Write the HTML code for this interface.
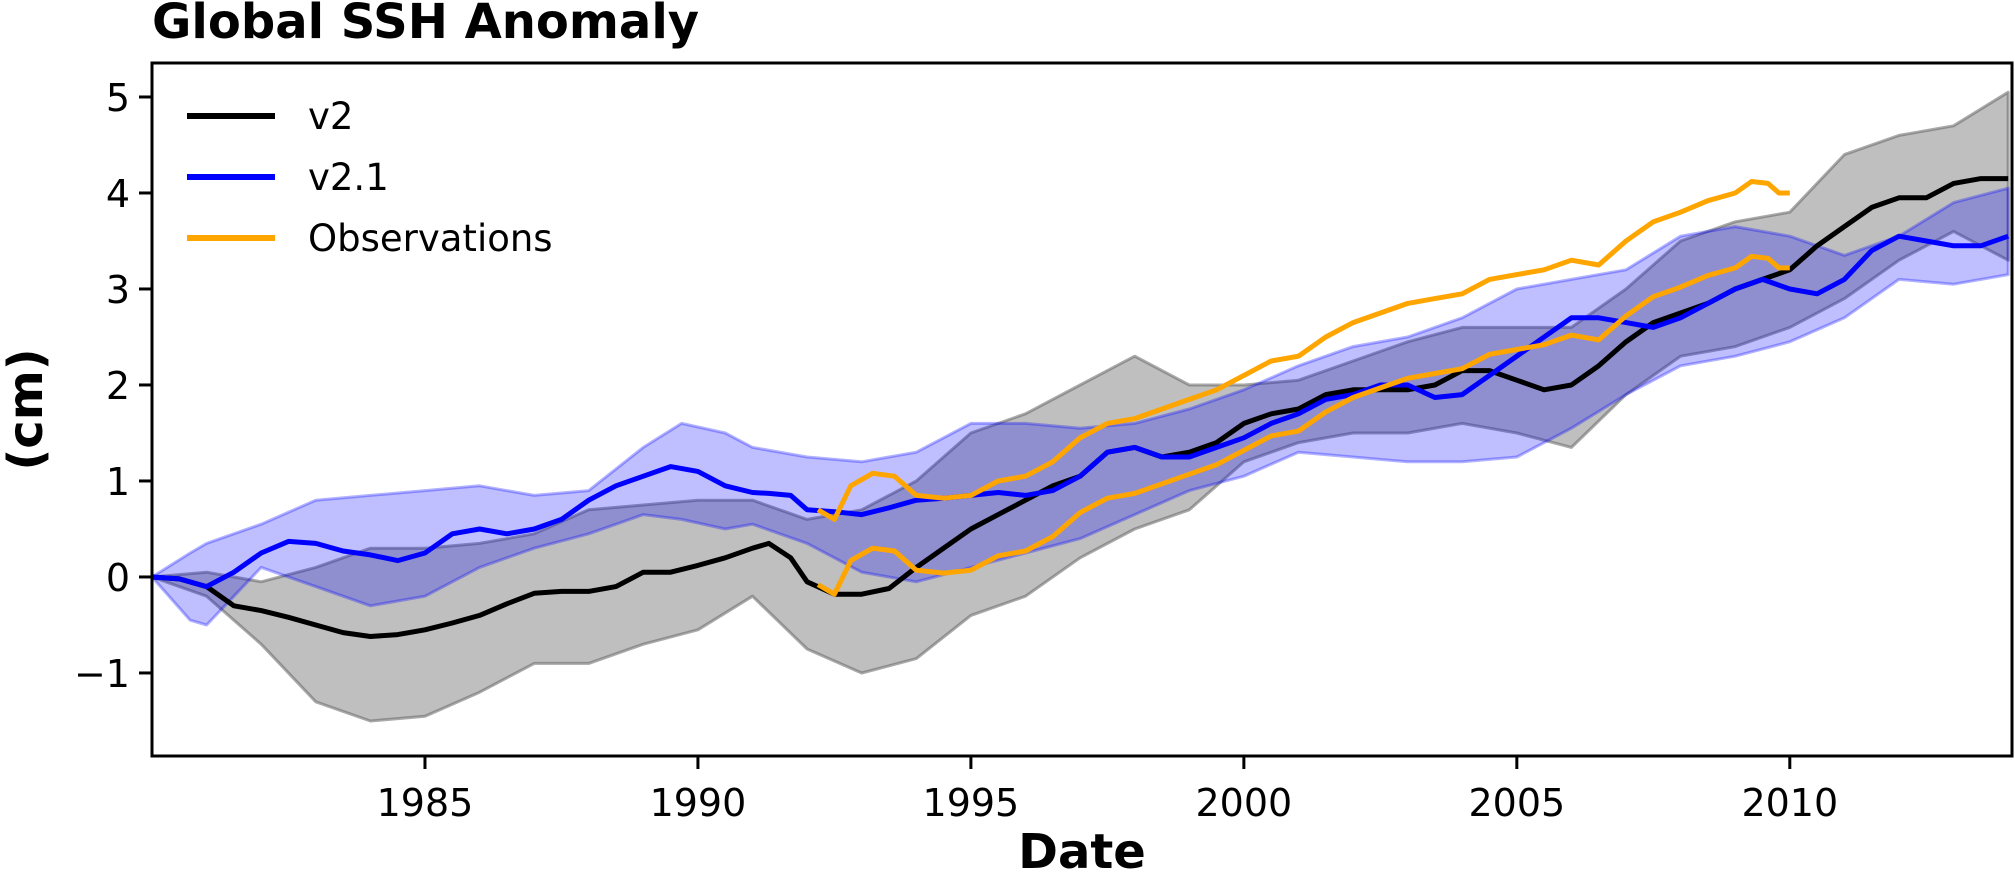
<!DOCTYPE html>
<html><head><meta charset="utf-8"><style>
html,body{margin:0;padding:0;background:#fff;}
svg{display:block;font-family:"DejaVu Sans","Liberation Sans",sans-serif;}
</style></head><body>
<svg id="chart" width="2015" height="881" viewBox="0 0 2015 881">
<text x="152" y="38" font-size="48" font-weight="bold">Global SSH Anomaly</text>
<g id="plot"></g>
</svg>
<script>
// ---- data ----
const v2Years = [1980,1980.5,1981,1981.5,1982,1982.5,1983,1983.5,1984,1984.5,1985,1985.5,1986,1986.5,1987,1987.5,1988,1988.5,1989,1989.5,1990,1990.5,1991,1991.3,1991.7,1992,1992.5,1993,1993.5,1994,1994.5,1995,1995.5,1996,1996.5,1997,1997.5,1998,1998.5,1999,1999.5,2000,2000.5,2001,2001.5,2002,2002.5,2003,2003.5,2004,2004.5,2005,2005.5,2006,2006.5,2007,2007.5,2008,2008.5,2009,2009.5,2010,2010.5,2011,2011.5,2012,2012.5,2013,2013.5,2014];
const v2Values = [0,-0.02,-0.1,-0.3,-0.35,-0.42,-0.5,-0.58,-0.62,-0.6,-0.55,-0.48,-0.4,-0.28,-0.17,-0.15,-0.15,-0.1,0.05,0.05,0.12,0.2,0.3,0.35,0.2,-0.05,-0.18,-0.18,-0.12,0.1,0.3,0.5,0.65,0.8,0.95,1.05,1.3,1.35,1.25,1.3,1.4,1.6,1.7,1.75,1.9,1.95,1.95,1.95,2.0,2.15,2.15,2.05,1.95,2.0,2.2,2.45,2.65,2.75,2.85,3.0,3.1,3.2,3.45,3.65,3.85,3.95,3.95,4.1,4.15,4.15];
const v2BandYears = [1980,1981,1982,1983,1984,1985,1986,1987,1988,1989,1990,1991,1992,1993,1994,1995,1996,1997,1998,1999,2000,2001,2002,2003,2004,2005,2006,2007,2008,2009,2010,2011,2012,2013,2014];
const v2Upper = [0,0.05,-0.05,0.1,0.3,0.3,0.35,0.45,0.7,0.75,0.8,0.8,0.6,0.7,1.0,1.5,1.7,2.0,2.3,2.0,2.0,2.05,2.25,2.45,2.6,2.6,2.6,3.0,3.5,3.7,3.8,4.4,4.6,4.7,5.05];
const v2Lower = [0,-0.2,-0.7,-1.3,-1.5,-1.45,-1.2,-0.9,-0.9,-0.7,-0.55,-0.2,-0.75,-1.0,-0.85,-0.4,-0.2,0.2,0.5,0.7,1.2,1.4,1.5,1.5,1.6,1.5,1.35,1.9,2.3,2.4,2.6,2.9,3.3,3.6,3.3];
const v21Years = v2Years;
const v21Values = [0,-0.02,-0.1,0.05,0.25,0.37,0.35,0.27,0.23,0.17,0.25,0.45,0.5,0.45,0.5,0.6,0.8,0.95,1.05,1.15,1.1,0.95,0.88,0.87,0.85,0.7,0.68,0.65,0.72,0.8,0.82,0.85,0.88,0.85,0.9,1.05,1.3,1.35,1.25,1.25,1.35,1.45,1.6,1.7,1.85,1.9,2.0,2.0,1.87,1.9,2.1,2.3,2.5,2.7,2.7,2.65,2.6,2.7,2.85,3.0,3.1,3.0,2.95,3.1,3.4,3.55,3.5,3.45,3.45,3.55];
const v21BandYears = [1980,1980.7,1981,1981.5,1982,1983,1984,1985,1986,1987,1988,1989,1989.7,1990.5,1991,1992,1993,1994,1995,1996,1997,1998,1999,2000,2001,2002,2003,2004,2005,2006,2007,2008,2009,2010,2011,2012,2013,2014];
const v21Upper = [0,0.25,0.35,0.45,0.55,0.8,0.85,0.9,0.95,0.85,0.9,1.35,1.6,1.5,1.35,1.25,1.2,1.3,1.6,1.6,1.55,1.6,1.75,1.95,2.2,2.4,2.5,2.7,3.0,3.1,3.2,3.55,3.65,3.55,3.35,3.55,3.9,4.05];
const v21Lower = [0,-0.45,-0.5,-0.2,0.1,-0.1,-0.3,-0.2,0.1,0.3,0.45,0.65,0.6,0.5,0.55,0.35,0.05,-0.05,0.1,0.25,0.4,0.65,0.9,1.05,1.3,1.25,1.2,1.2,1.25,1.55,1.9,2.2,2.3,2.45,2.7,3.1,3.05,3.15];
const obsYears = [1992.2,1992.5,1992.8,1993.2,1993.6,1994,1994.5,1995,1995.5,1996,1996.5,1997,1997.5,1998,1998.5,1999,1999.5,2000,2000.5,2001,2001.5,2002,2002.5,2003,2003.5,2004,2004.5,2005,2005.5,2006,2006.5,2007,2007.5,2008,2008.5,2009,2009.3,2009.6,2009.8,2010];
const obsUpper = [0.7,0.6,0.95,1.08,1.05,0.85,0.82,0.85,1.0,1.05,1.2,1.45,1.6,1.65,1.75,1.85,1.95,2.1,2.25,2.3,2.5,2.65,2.75,2.85,2.9,2.95,3.1,3.15,3.2,3.3,3.25,3.5,3.7,3.8,3.92,4.0,4.12,4.1,4.0,4.0];
const obsLower = [-0.08,-0.18,0.17,0.3,0.27,0.07,0.04,0.07,0.22,0.27,0.42,0.67,0.82,0.87,0.97,1.07,1.17,1.32,1.47,1.52,1.72,1.87,1.97,2.07,2.12,2.17,2.32,2.37,2.42,2.52,2.47,2.72,2.92,3.02,3.14,3.22,3.34,3.32,3.22,3.22];
const xTicks = [1985,1990,1995,2000,2005,2010];
const yTicks = [-1,0,1,2,3,4,5];

// ---- axes ----
const L=152,R=2012,T=63,B=756;
const xMin=1980,xMax=2014.07,yMin=-1.865,yMax=5.354;
const xs=v=>L+(v-xMin)/(xMax-xMin)*(R-L);
const ys=v=>B-(v-yMin)/(yMax-yMin)*(B-T);
const NS="http://www.w3.org/2000/svg";
const plot=document.getElementById('plot');
function mk(tag,attrs,parent){const e=document.createElementNS(NS,tag);for(const k in attrs)e.setAttribute(k,attrs[k]);(parent||plot).appendChild(e);return e;}
function linePts(xa,ya){return xa.map((x,i)=>xs(x).toFixed(1)+','+ys(ya[i]).toFixed(1)).join(' ');}
function bandPts(xa,up,lo){const a=xa.map((x,i)=>xs(x).toFixed(1)+','+ys(up[i]).toFixed(1));const b=xa.map((x,i)=>xs(x).toFixed(1)+','+ys(lo[i]).toFixed(1)).reverse();return a.concat(b).join(' ');}

let e;
e=mk('polygon',{points:bandPts(v2BandYears,v2Upper,v2Lower),fill:'rgba(128,128,128,0.5)',stroke:'rgba(100,100,100,0.55)','stroke-width':3,'stroke-linejoin':'round'});


e=mk('polygon',{points:bandPts(v21BandYears,v21Upper,v21Lower),fill:'rgba(0,0,255,0.25)',stroke:'rgba(0,0,255,0.3)','stroke-width':3,'stroke-linejoin':'round'});


e=mk('polyline',{points:linePts(v2Years,v2Values),fill:'none',stroke:'#000','stroke-width':5,'stroke-linejoin':'round'});


e=mk('polyline',{points:linePts(v21Years,v21Values),fill:'none',stroke:'#0000ff','stroke-width':5,'stroke-linejoin':'round'});


e=mk('polyline',{points:linePts(obsYears,obsUpper),fill:'none',stroke:'#ffa500','stroke-width':5,'stroke-linejoin':'round'});


e=mk('polyline',{points:linePts(obsYears,obsLower),fill:'none',stroke:'#ffa500','stroke-width':5,'stroke-linejoin':'round'});



// frame
e=mk('rect',{x:L,y:T,width:R-L,height:B-T,fill:'none',stroke:'#000','stroke-width':3});



xTicks.forEach(t=>{
  const x=xs(t);
  const l=mk('line',{x1:x,x2:x,y1:B,y2:B+13,stroke:'#000','stroke-width':3});
  
  
  const tx=mk('text',{x:x,y:816,'font-size':38,'text-anchor':'middle'});
  tx.textContent=t;
  
  
});
yTicks.forEach(t=>{
  const y=ys(t);
  const l=mk('line',{x1:L-13,x2:L,y1:y,y2:y,stroke:'#000','stroke-width':3});
  
  
  const tx=mk('text',{x:L-22,y:y+14,'font-size':38,'text-anchor':'end'});
  tx.textContent=t<0?'\u2212'+Math.abs(t):String(t);
  
  
});

e=mk('text',{x:1082,y:868,'font-size':48,'font-weight':'bold','text-anchor':'middle'});
e.textContent='Date';


e=mk('text',{x:0,y:0,'font-size':48,'font-weight':'bold','text-anchor':'middle',transform:'translate(42,'+((T+B)/2)+') rotate(-90)'});
e.textContent='(cm)';



// legend
const legendLabels=['v2','v2.1','Observations'];
const legendColors=['#000','#0000ff','#ffa500'];
legendLabels.forEach((lab,i)=>{
  const y=116+i*61;
  const g=mk('g',{});
  
  
  mk('line',{x1:187,x2:275,y1:y,y2:y,stroke:legendColors[i],'stroke-width':6},g);
  const tx=mk('text',{x:308,y:y+13,'font-size':37},g);
  tx.textContent=lab;
});
</script>
</body></html>
